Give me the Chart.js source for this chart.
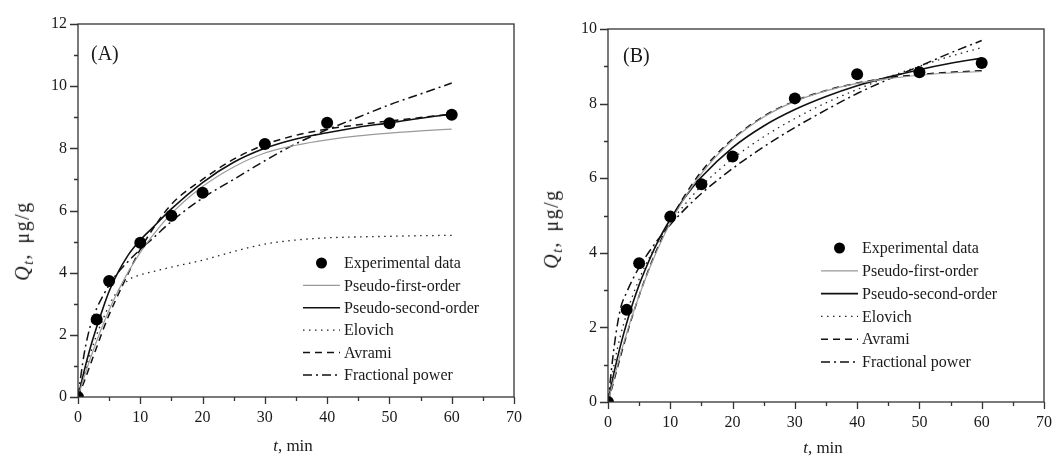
<!DOCTYPE html>
<html>
<head>
  <title>Adsorption kinetics</title>
  <script src="https://cdn.jsdelivr.net/npm/chart.js"></script>
  <style>
    body { margin: 0; background: #fff; }
    #page { position: relative; width: 1061px; height: 460px; font-family: "Liberation Serif", "Times New Roman", serif; color: #1a1a1a; }
    .panel { position: absolute; top: 0; height: 460px; }
    .ytitle { position: absolute; transform: translate(-50%, -50%) rotate(-90deg); white-space: nowrap; font-size: 20px; letter-spacing: 1.5px; word-spacing: 3px; }
    .xtitle { position: absolute; transform: translate(-50%, -50%); white-space: nowrap; font-size: 17px; }
    .tag { position: absolute; font-size: 20px; line-height: 1; }
    sub { font-size: 0.7em; vertical-align: -0.3em; }
  </style>
</head>
<body>

<div id="page">
  <div class="panel" style="left:0; width:530px;"><canvas id="chartA"></canvas></div>
  <div class="panel" style="left:530px; width:531px;"><canvas id="chartB"></canvas></div>

  <div class="ytitle" style="left:24px; top:241px;"><i>Q</i><sub><i>t</i></sub>, μg/g</div>
  <div class="xtitle" style="left:293px; top:446px;"><i>t</i>, min</div>
  <div class="tag" style="left:91px; top:43px;">(A)</div>

  <div class="ytitle" style="left:553px; top:229px;"><i>Q</i><sub><i>t</i></sub>, μg/g</div>
  <div class="xtitle" style="left:823px; top:448px;"><i>t</i>, min</div>
  <div class="tag" style="left:623px; top:45px;">(B)</div>
</div>

<script>
  // measured points (same sampling times in both panels)
  const expT = [0, 3, 5, 10, 15, 20, 30, 40, 50, 60];
  const expA = [0, 2.49, 3.73, 4.96, 5.83, 6.57, 8.14, 8.82, 8.81, 9.08];
  const expB = [0, 2.47, 3.72, 4.97, 5.84, 6.58, 8.14, 8.79, 8.84, 9.09];

  // model curves at these times
  const fitT = [0, 1, 2, 3, 4, 5, 6, 8, 10, 12, 15, 20, 25, 30, 35, 40, 45, 50, 55, 60];

  const pfoA = [0, 0.65, 1.25, 1.8, 2.32, 2.8, 3.23, 4.0, 4.65, 5.2, 5.9, 6.77, 7.4, 7.85, 8.1, 8.27, 8.4, 8.49, 8.56, 8.62];
  const psoA = [0, 0.85, 1.6, 2.25, 2.85, 3.4, 3.85, 4.55, 5.05, 5.45, 6.05, 6.9, 7.55, 8.0, 8.3, 8.5, 8.68, 8.82, 8.97, 9.1];
  const eloA = [0, 0.75, 1.4, 2.0, 2.5, 2.95, 3.3, 3.75, 3.93, 4.03, 4.18, 4.4, 4.68, 4.92, 5.05, 5.12, 5.15, 5.17, 5.19, 5.2];
  const avrA = [0, 0.5, 1.05, 1.6, 2.15, 2.65, 3.1, 3.95, 4.75, 5.4, 6.2, 7.0, 7.65, 8.12, 8.42, 8.62, 8.76, 8.88, 8.99, 9.1];
  const fpA  = [0, 1.4, 2.3, 2.85, 3.25, 3.6, 3.9, 4.35, 4.75, 5.1, 5.65, 6.4, 7.0, 7.6, 8.15, 8.6, 9.0, 9.4, 9.75, 10.1];

  const pfoB = [0, 0.66, 1.28, 1.84, 2.37, 2.85, 3.3, 4.11, 4.8, 5.39, 6.12, 7.02, 7.64, 8.06, 8.34, 8.54, 8.67, 8.76, 8.82, 8.86];
  const psoB = [0, 0.81, 1.51, 2.12, 2.66, 3.14, 3.56, 4.3, 4.9, 5.41, 6.03, 6.82, 7.4, 7.84, 8.19, 8.48, 8.71, 8.91, 9.08, 9.22];
  const eloB = [0, 1.02, 1.78, 2.37, 2.87, 3.29, 3.66, 4.29, 4.8, 5.23, 5.79, 6.52, 7.11, 7.6, 8.02, 8.38, 8.71, 9.0, 9.27, 9.5];
  const avrB = [0, 0.6, 1.22, 1.8, 2.35, 2.85, 3.32, 4.15, 4.85, 5.45, 6.18, 7.05, 7.66, 8.07, 8.35, 8.55, 8.69, 8.78, 8.84, 8.88];
  const fpB  = [0, 1.5, 2.5, 2.94, 3.3, 3.61, 3.88, 4.35, 4.75, 5.11, 5.59, 6.26, 6.84, 7.36, 7.83, 8.27, 8.65, 9.0, 9.36, 9.69];

  const labels = ['Experimental data', 'Pseudo-first-order', 'Pseudo-second-order', 'Elovich', 'Avrami', 'Fractional power'];

  const FONT = '"Liberation Serif", "Times New Roman", serif';

  const lineStyles = [
    { borderColor: '#9a9a9a', borderWidth: 1.2, borderDash: [] },
    { borderColor: '#111', borderWidth: 1.6, borderDash: [] },
    { borderColor: '#222', borderWidth: 1.3, borderDash: [1.5, 4.5] },
    { borderColor: '#111', borderWidth: 1.5, borderDash: [7, 5] },
    { borderColor: '#111', borderWidth: 1.5, borderDash: [9, 4, 2, 4] }
  ];

  // box, ticks and in-plot legend
  const framePlugin = {
    id: 'frame',
    afterDraw(chart, args, opts) {
      const { ctx, chartArea: a, scales: { x, y } } = chart;
      ctx.save();
      ctx.strokeStyle = '#333';
      ctx.lineWidth = 1.3;
      ctx.strokeRect(a.left, a.top, a.right - a.left, a.bottom - a.top);

      ctx.beginPath();
      for (let v = x.min; v <= x.max; v += 5) {
        const px = Math.round(x.getPixelForValue(v)) + 0.5;
        ctx.moveTo(px, a.bottom);
        ctx.lineTo(px, a.bottom + (v % 10 === 0 ? 7 : 4));
      }
      for (let v = y.min; v <= y.max; v += 1) {
        const py = Math.round(y.getPixelForValue(v)) + 0.5;
        ctx.moveTo(a.left, py);
        ctx.lineTo(a.left - (v % 2 === 0 ? 8 : 4), py);
      }
      ctx.stroke();

      // legend
      ctx.font = '16px ' + FONT;
      ctx.textBaseline = 'middle';
      ctx.fillStyle = '#1a1a1a';
      const x0 = a.left + opts.left, x1 = x0 + 37;
      chart.data.datasets.forEach((ds, i) => {
        const yy = a.top + opts.top + i * opts.gap;
        if (ds.showLine) {
          ctx.save();
          ctx.strokeStyle = ds.borderColor;
          ctx.lineWidth = ds.borderWidth;
          ctx.setLineDash(ds.borderDash);
          ctx.beginPath();
          ctx.moveTo(x0, yy);
          ctx.lineTo(x1, yy);
          ctx.stroke();
          ctx.restore();
        } else {
          ctx.beginPath();
          ctx.arc((x0 + x1) / 2, yy, 5.5, 0, Math.PI * 2);
          ctx.fillStyle = '#000';
          ctx.fill();
          ctx.fillStyle = '#1a1a1a';
        }
        ctx.fillText(ds.label, x1 + 4, yy + 1);
      });
      ctx.restore();
    }
  };

  function makeChart(id, exp, fits, yMax, pad, xHeight, legend) {
    const datasets = [{
      label: labels[0],
      data: expT.map((t, i) => ({ x: t, y: exp[i] })),
      showLine: false,
      pointRadius: 6,
      pointBackgroundColor: '#000',
      pointBorderWidth: 0,
      order: 0
    }];
    fits.forEach((ys, k) => {
      datasets.push(Object.assign({
        label: labels[k + 1],
        data: fitT.map((t, i) => ({ x: t, y: ys[i] })),
        showLine: true,
        pointRadius: 0,
        fill: false,
        cubicInterpolationMode: 'monotone',
        order: k + 1
      }, lineStyles[k]));
    });

    const tickFont = { family: FONT, size: 16 };

    return new Chart(document.getElementById(id), {
      type: 'scatter',
      data: { datasets },
      options: {
        responsive: true,
        maintainAspectRatio: false,
        animation: false,
        layout: { padding: pad },
        plugins: {
          legend: { display: false },
          tooltip: { enabled: false },
          frame: legend
        },
        scales: {
          x: {
            type: 'linear', min: 0, max: 70,
            ticks: { stepSize: 10, padding: 11, color: '#1a1a1a', font: tickFont, maxRotation: 0 },
            grid: { display: false, drawTicks: false },
            border: { display: false },
            afterFit(s) { s.height = xHeight; s.paddingLeft = 0; s.paddingRight = 0; }
          },
          y: {
            min: 0, max: yMax,
            ticks: { stepSize: 2, padding: 11, color: '#1a1a1a', font: tickFont },
            grid: { display: false, drawTicks: false },
            border: { display: false },
            afterFit(s) { s.width = 78; s.paddingTop = 0; s.paddingBottom = 0; }
          }
        }
      },
      plugins: [framePlugin]
    });
  }

  makeChart('chartA', expA, [pfoA, psoA, eloA, avrA, fpA], 12,
    { left: 0, top: 24, right: 16, bottom: 0 }, 63,
    { left: 225, top: 239, gap: 22.4 });

  makeChart('chartB', expB, [pfoB, psoB, eloB, avrB, fpB], 10,
    { left: 0, top: 29, right: 17, bottom: 0 }, 58,
    { left: 213, top: 219, gap: 22.8 });
</script>

</body>
</html>
